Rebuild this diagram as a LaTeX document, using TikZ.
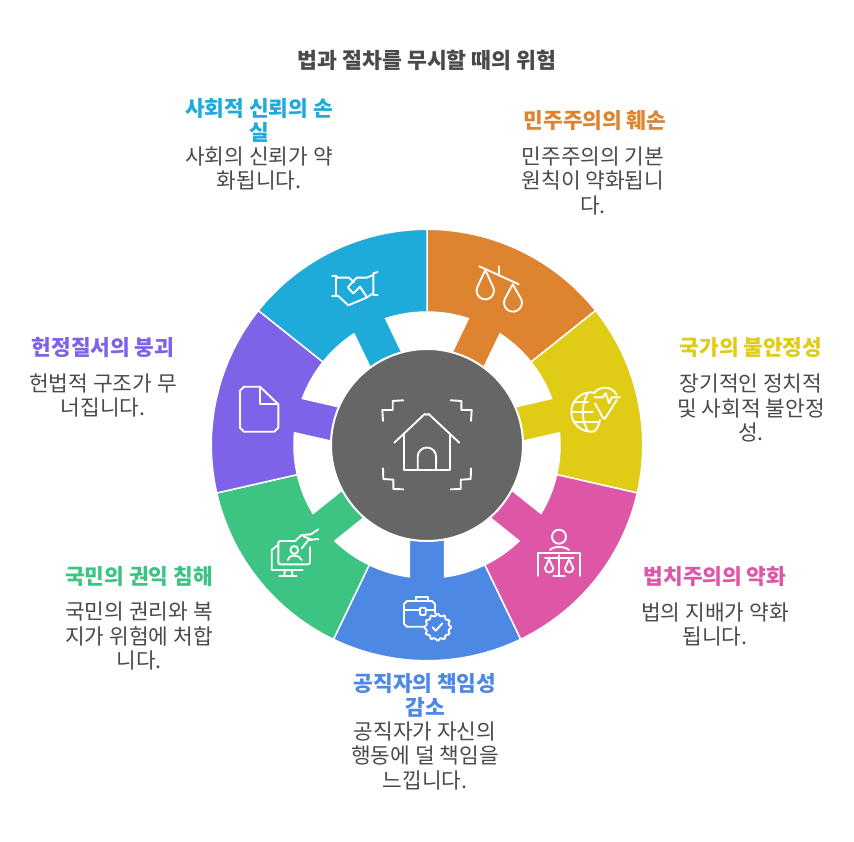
\documentclass[tikz,border=0pt]{standalone}
\usepackage{fontspec}
\setmainfont{Noto Sans CJK KR}
\usetikzlibrary{shapes.geometric}
\definecolor{cyansect}{HTML}{1EABDA}
\definecolor{orangesect}{HTML}{DE8431}
\definecolor{yellowsect}{HTML}{E0CB15}
\definecolor{pinksect}{HTML}{DE57A7}
\definecolor{bluesect}{HTML}{4D88E5}
\definecolor{greensect}{HTML}{3DC482}
\definecolor{purplesect}{HTML}{7E62E8}
\definecolor{hubgray}{HTML}{666666}
\definecolor{bodygray}{HTML}{4A4A4A}
\tikzset{
titletext/.style={font=\fontsize{21.6}{24}\selectfont\bfseries,text=bodygray,align=center,inner sep=0pt},
headtext/.style={font=\fontsize{21.4}{24}\selectfont\bfseries,align=center,inner sep=0pt},
bodytext/.style={font=\fontsize{21.4}{24.5}\selectfont,text=bodygray,align=center,inner sep=0pt},
iconline/.style={draw=white,line width=1.9pt,line join=round,line cap=round},
}
\begin{document}
\begin{tikzpicture}[x=1pt,y=-1pt]
\useasboundingbox (0,0) rectangle (854,842);
\node[titletext] (title) at (427,60) {법과 절차를 무시할 때의 위험};
% sectors with their tabs, clockwise from the top
\begin{scope}[shift={(427,445)}]
\foreach \col/\k in {orangesect/0,yellowsect/1,pinksect/2,bluesect/3,greensect/4,purplesect/5,cyansect/6}{
\pgfmathsetmacro\a{-90+51.4286*\k}
\pgfmathsetmacro\b{\a+51.4286}
\pgfmathsetmacro\m{\a+25.7143}
\pgfmathsetmacro\ml{\m-7.6}
\pgfmathsetmacro\mr{\m+7.6}
\pgfmathsetmacro\hl{\m-11}
\pgfmathsetmacro\hr{\m+11}
\fill[\col,draw=white,line width=1.5pt,line join=miter] (\a:215.7) arc (\a:\b:215.7) -- (\b:133) arc (\b:\mr:133) -- (\hr:92) -- (\hl:92) -- (\ml:133) arc (\ml:\a:133) -- cycle;
}
\node[circle,fill=hubgray,draw=white,line width=2pt,minimum size=192pt,inner sep=0pt] (hub) at (0,0) {};
\end{scope}
% hub icon
\draw[iconline] (394.3,442.7) -- (424.7,414) to[out=-43,in=-137] (428.7,414) -- (459.3,442.7);
\draw[iconline] (404,434.3) -- (404,470) -- (450,470) -- (450,434.3);
\draw[iconline] (417.7,470) -- (417.7,456.7) arc (180:360:9.2) -- (436,470);
\draw[iconline] (383,421) -- (382.3,410) -- (392.7,410) -- (392.7,401) -- (403.3,400.3);
\draw[iconline] (450.7,400.3) -- (461.3,401) -- (461.3,410) -- (471.7,410) -- (471,421);
\draw[iconline] (383,468.3) -- (383.3,479) -- (393.3,479.7) -- (393.3,489) -- (403.3,489.3);
\draw[iconline] (471,468.3) -- (470.7,479) -- (460.7,479.7) -- (460.7,489) -- (450.7,489.3);
% scales
\draw[iconline] (479.3,266.3) -- (518.7,284.3);
\draw[iconline] (498.7,266.3) -- (498.7,275.7);
\draw[iconline] (485.3,270) -- (477.1,287.7) arc (200:-20:8.7) -- cycle;
\draw[iconline] (512.7,284.3) -- (504.5,299.6) arc (200:-20:9) -- cycle;
% globe with heart
\draw[iconline] (594.4,392.6) arc (-80:-280:19.7) ;
\draw[iconline] (588,392.6) .. controls (581,405) and (581,420) .. (588,431.5);
\draw[iconline] (600,420) .. controls (599,425) and (597,429) .. (594,431.5);
\draw[iconline] (574,401.7) -- (588,401.7);
\draw[iconline] (572,411.7) -- (593,411.7);
\draw[iconline] (575,421.7) -- (598,421.7);
\draw[iconline] (594.3,393.3) .. controls (598,386) and (612,385) .. (616.7,395);
\draw[iconline] (595,403.3) -- (602.5,417) -- (604.3,419) -- (606,417) -- (616.7,400);
\draw[iconline] (594.3,397.3) -- (602.7,397.3) -- (605.7,393.3) -- (609,403.3) -- (611.7,397.3) -- (620,397.3);
% judge
\draw[iconline] (559,536.7) circle (7);
\draw[iconline] (550,550) .. controls (553,546) and (565,546) .. (569,550);
\draw[iconline] (538.3,576) -- (538.3,552.7) -- (580,552.7) -- (580,576);
\draw[iconline] (559,555) -- (559,575.7);
\draw[iconline] (553.3,575.7) -- (565,575.7);
\draw[iconline] (545,558.3) -- (573.3,558.3);
\draw[iconline] (549,559.3) -- (545,568.3) arc (180:0:4.2) -- cycle;
\draw[iconline] (569,559.3) -- (565,568.3) arc (180:0:4.2) -- cycle;
% briefcase
\draw[iconline] (424.3,626.7) -- (407,626.7) -- (404,623.7) -- (404,604) -- (407,601) -- (432,601) -- (435,604) -- (435,613.3);
\draw[iconline] (415.7,601) -- (415.7,596.7) -- (428.3,596.7) -- (428.3,601);
\draw[iconline] (404,610) -- (420,610);
\draw[iconline] (425.7,610) -- (435,610);
\draw[iconline,rounded corners=1pt] (420,607.7) rectangle (425.7,615);
\node[star,star points=12,star point ratio=1.28,minimum size=28pt,inner sep=0pt,draw=white,line width=1.9pt,rounded corners=1pt] (badge) at (437.7,627.3) {};
\draw[iconline] (432.7,627.3) -- (435.7,630.7) -- (442.3,623.3);
% monitor
\draw[iconline,rounded corners=2pt] (296,541) -- (278.3,541) -- (278.3,564.3) -- (310,564.3) -- (310,547);
\draw[iconline] (278,545) -- (271.7,550) -- (271.7,570) -- (302.7,570);
\draw[iconline] (285,570.7) -- (284,576);
\draw[iconline] (291.7,570.7) -- (292.7,576);
\draw[iconline] (279.3,576) -- (296.7,576);
\draw[iconline] (294.3,550) circle (3.9);
\draw[iconline] (287.7,560) .. controls (289,554) and (299,554) .. (301.7,560);
\draw[iconline] (296,540) -- (301.7,535) -- (311,534.3) -- (318.3,529.3);
\draw[iconline] (301.7,548.3) -- (308.3,540) -- (318.3,539);
\draw[iconline] (303,536) -- (312,540);
% sheet
\draw[iconline] (260,386.7) -- (244,386.7) -- (240,390.7) -- (240,427.7) -- (244,431.7) -- (274.3,431.7) -- (278.3,427.7) -- (278.3,404.3) -- cycle;
\draw[iconline] (260,386.7) -- (260,404.3) -- (278.3,404.3);
% handshake
\draw[iconline] (332,276) -- (336.7,276);
\draw[iconline] (336,276) -- (336,296);
\draw[iconline] (332,296) -- (338.3,296);
\draw[iconline] (336.7,277.7) -- (349,277.7) -- (354,282.3);
\draw[iconline] (338.3,296) -- (348.3,305.3) -- (365.7,298) -- (373.3,293.3);
\draw[iconline] (377.7,272) -- (373.3,273.3) -- (373.3,295) -- (377.7,295);
\draw[iconline] (373.3,275) -- (366.7,277.7) -- (356.7,277.7) -- (347.7,287.3) -- (353.3,293.3) -- (360,286.7) -- (366.7,297);
% labels
\node[headtext,text=cyansect] (lossHead) at (259,120) {사회적 신뢰의 손\\실};
\node[bodytext] (lossBody) at (259,168.5) {사회의 신뢰가 약\\화됩니다.};
\node[headtext,text=orangesect] (demoHead) at (595,120) {민주주의의 훼손};
\node[bodytext] (demoBody) at (593,180.5) {민주주의의 기본\\원칙이 약화됩니\\다.};
\node[headtext,text=yellowsect] (stateHead) at (751,347) {국가의 불안정성};
\node[bodytext] (stateBody) at (751,408) {장기적인 정치적\\및 사회적 불안정\\성.};
\node[headtext,text=pinksect] (ruleHead) at (715,576) {법치주의의 약화};
\node[bodytext] (ruleBody) at (715,624.5) {법의 지배가 약화\\됩니다.};
\node[headtext,text=bluesect] (dutyHead) at (425,695.5) {공직자의 책임성\\감소};
\node[bodytext] (dutyBody) at (425,755.5) {공직자가 자신의\\행동에 덜 책임을\\느낍니다.};
\node[headtext,text=greensect] (rightHead) at (139,576) {국민의 권익 침해};
\node[bodytext] (rightBody) at (139,636) {국민의 권리와 복\\지가 위험에 처합\\니다.};
\node[headtext,text=purplesect] (orderHead) at (103,347) {헌정질서의 붕괴};
\node[bodytext] (orderBody) at (103,395.5) {헌법적 구조가 무\\너집니다.};
\end{tikzpicture}
\end{document}
